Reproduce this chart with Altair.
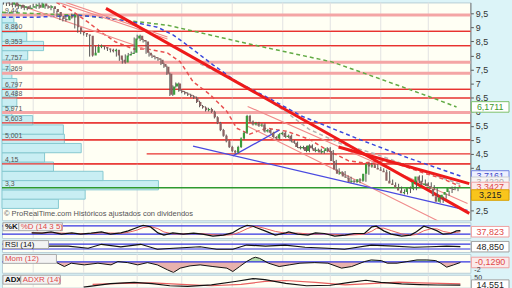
import altair as alt
import pandas as pd

FONT = "Liberation Sans"

# ---------------- price bars (bar index 0..153) ----------------
closes = [
    9.85, 9.8, 9.9, 9.75, 9.8,
    9.7, 9.75, 9.65, 9.7, 9.75,
    9.8, 9.7, 9.85, 9.75, 9.7,
    9.75, 9.65, 9.55, 9.4, 9.3,
    9.25, 9.4, 9.35, 9.45, 9.0,
    8.85, 8.8, 8.75, 8.7, 8.0,
    8.1, 8.3, 8.35, 8.3, 8.25,
    8.2, 8.15, 8.2, 8.0, 7.85,
    7.75, 8.0, 8.05, 8.1, 8.6,
    8.7, 8.55, 8.5, 8.1, 8.0,
    7.95, 7.9, 7.85, 7.7, 7.6,
    7.35, 6.6, 6.9, 7.0, 6.75,
    6.7, 6.65, 6.6, 6.55, 6.5,
    6.35, 6.2, 6.15, 6.05, 6.1,
    6.0, 5.8, 5.6, 5.35, 5.15,
    4.95, 4.75, 4.6, 4.55, 4.75,
    5.05, 5.25, 5.85, 5.65, 5.55,
    5.6, 5.5, 5.55, 5.3, 5.35,
    5.25, 5.1, 5.05, 5.2, 5.25,
    5.1, 5.15, 4.95, 4.9, 4.75,
    4.7, 4.75, 4.6, 4.8, 4.7,
    4.6, 4.65, 4.55, 4.6, 4.7,
    4.6, 4.25, 3.95, 3.8, 3.85,
    3.7, 3.65, 3.5, 3.55, 3.5,
    3.6, 3.55, 3.8, 4.15, 4.05,
    4.1, 4.0, 3.95, 3.9, 3.85,
    3.55, 3.45, 3.4, 3.3, 3.2,
    3.1, 3.15, 3.3, 3.25, 3.5,
    3.7, 3.55, 3.4, 3.45, 3.35,
    3.25, 3.0, 2.8, 2.95, 3.05,
    3.15, 3.3, 3.25, 3.215,
]
first_open = 9.9

month_bars = [10, 27, 45, 60, 77, 94, 110, 127, 143]

# support / resistance levels
sr_strong = [8.86, 8.353, 6.797, 6.488, 5.603, 5.001, 4.15]
sr_weak = [9.44, 7.757, 7.369, 5.971]
sr_partial = [4.5]
sr_partial_start = [48.2]
sr_green = [3.3]

level_labels = ["9,44", "8,860", "8,353", "7,757", "7,369", "6,797", "6,488",
                "5,971", "5,603", "5,001", "4,15", "3,3"]
level_prices = [9.44, 8.86, 8.353, 7.757, 7.369, 6.797, 6.488,
                5.971, 5.603, 5.001, 4.15, 3.3]

# volume profile
vp_low = [2.563, 2.893, 3.223, 3.553, 3.883, 4.213, 4.543, 4.873, 5.203, 5.533, 5.863,
          6.193, 6.523, 6.853, 7.183, 7.513, 7.843, 8.173, 8.503, 8.833, 9.163]
vp_high = [2.893, 3.223, 3.553, 3.883, 4.213, 4.543, 4.873, 5.203, 5.533, 5.863, 6.193,
           6.523, 6.853, 7.183, 7.513, 7.843, 8.173, 8.503, 8.833, 9.163, 9.493]
vp_vol = [57, 84, 158, 102, 52, 43, 80, 63, 62, 31, 10, 15, 15, 15, 10, 8, 26, 42, 25, 15, 12]

# moving averages (bar, price)
ma_green_bar = [-0.5, 26.2, 55.2, 82.8, 110.5, 127.5, 143.2, 152.5]
ma_green_val = [9.535, 9.429, 9.077, 8.408, 7.774, 7.141, 6.542, 6.171]
ma_blue_bar = [-0.5, 10.5, 25.2, 32.8, 43.8, 51.8, 57.2, 61.8, 70.5, 78.5, 89.5, 100.5,
               107.2, 119.5, 136.2, 153.8]
ma_blue_val = [9.359, 9.359, 9.429, 9.359, 9.183, 9.007, 8.725, 8.373, 7.669, 7.07, 6.472,
               5.838, 5.556, 5.028, 4.359, 3.716]
ma_gray_bar = [66.2, 75.2, 84.8, 94.8, 102.8, 113.8, 125.2, 136.2, 153.8]
ma_gray_val = [7.704, 7.246, 6.718, 6.014, 5.38, 4.852, 4.5, 4.077, 3.422]
ma_red_bar = [17.8, 22.8, 28.5, 32.8, 37.8, 43.8, 48.5, 55.2, 59.5, 63.8, 69.5, 75.2, 78.5,
              82.8, 88.5, 95.2, 102.8, 109.5, 116.2, 121.2, 127.8, 134.5, 141.2, 147.8, 153.8]
ma_red_val = [9.887, 9.605, 9.183, 8.831, 8.479, 8.232, 8.232, 8.091, 7.774, 7.07, 6.612,
              6.014, 5.415, 5.204, 5.415, 5.31, 5.028, 4.606, 4.253, 4.183, 4.253, 4.077,
              3.831, 3.62, 3.343]

# trend lines (id, bar, price)
thick_id = ["r1", "r1", "r2", "r2"]
thick_bar = [34.5, 156.8, 112.8, 156.8]
thick_val = [9.676, 2.387, 4.746, 3.443]
blue_id = ["b1", "b1", "b2", "b2"]
blue_bar = [63.8, 156.2, 77.2, 92.8]
blue_val = [4.781, 2.493, 4.429, 5.345]
pink_id = ["pA", "pA", "pB", "pB", "pC", "pC", "p1", "p1", "p2", "p2"]
pink_bar = [2.8, 47.8, 18.5, 55.2, 21.0, 55.2, 82.2, 156.2, 82.2, 147.2]
pink_val = [9.887, 8.232, 9.887, 8.584, 9.887, 8.655, 6.19, 2.74, 5.486, 2.07]

# ---------------- indicators ----------------
stoch_bar = [9.5, 13, 16, 19.5, 23, 26, 29.5, 33, 36, 39.5, 42, 45, 47, 49.5, 52, 54, 57,
             60.5, 64, 67, 70.5, 74, 77, 79.5, 82, 84, 85, 88, 91.5, 95, 96, 99, 102.5, 105,
             108, 111.5, 115, 118, 121.5, 124, 125.5, 128, 130.5, 134, 137, 139, 141.5, 144,
             146, 148, 150.5, 152.5, 153.8]
stoch_k = [29, 27, 37, 20, 29, 20, 27, 37, 20, 29, 44, 69, 85, 73, 29, 13, 29, 20, 27, 20, 6,
           13, 29, 61, 85, 78, 69, 44, 13, 29, 37, 20, 13, 29, 25, 6, 13, 25, 25, 73, 78, 44,
           20, 6, 13, 37, 78, 61, 44, 20, 25, 44, 46]
stoch_d = [30, 28, 31, 28, 25, 24, 24, 30, 28, 26, 33, 50, 68, 76, 60, 36, 22, 22, 24, 23,
           16, 12, 16, 34, 60, 76, 78, 62, 40, 27, 26, 28, 22, 20, 22, 18, 12, 15, 20, 42,
           62, 64, 46, 22, 12, 18, 45, 60, 58, 40, 30, 33, 37.8]
rsi_bar = [10.5, 21.8, 28.5, 33, 39.5, 46.2, 51.8, 57.2, 66.2, 71.8, 77.2, 81.8, 88.2, 94.8,
           101.5, 109.2, 114.8, 123.8, 131.5, 138.2, 143.8, 149.2, 153.8]
rsi_val = [54, 54, 36, 68, 48, 68, 28, 36, 48, 28, 28, 62, 54, 62, 44, 36, 28, 62, 54, 44,
           48, 54, 48.85]
mom_bar = [11.8, 17.2, 20.5, 22.8, 27.2, 31.8, 36.2, 38.5, 41.8, 45.2, 48.5, 51.8, 55.2, 57.2,
           59.5, 62.8, 66.2, 70.5, 75.2, 77.2, 79.5, 81.8, 83.8, 84.8, 86.2, 89.2, 92.8, 96.2,
           99.8, 104.8, 109.2, 113.8, 117.2, 121.5, 123.8, 127.2, 129.2, 132.5, 135.8, 139.2,
           142.5, 145.5, 147.2, 149.2, 151.5, 153.8]
mom_val = [-0.07, 0.07, -1.04, -0.29, -0.67, -0.29, -0.67, 0.07, -0.16, -0.67, -0.16, -0.67,
           -1.78, -2.38, -1.4, -0.89, -0.67, -1.04, -1.4, -2.16, -1.04, 0.07, 0.82, 1.04, 0.8,
           -0.29, -1.04, -0.67, -0.29, -0.16, -0.29, -1.4, -1.04, 0.07, 0.44, 0.29, -0.29,
           -0.29, 0.07, 0.44, 0.44, 0.29, -0.29, -1.18, -0.67, -0.129]
adx_bar = [27, 36, 44, 50, 56, 62, 70, 78, 84, 88, 95, 102, 110, 116, 122, 127, 134, 140, 146,
           153.8]
adx_val = [6, 21, 26, 21, 12, 9, 16, 30, 42, 38, 22, 12, 14, 25, 35, 26, 20, 17, 15, 14.551]
adxr_bar = [30, 40, 50, 60, 70, 80, 88, 95, 105, 115, 125, 133, 140, 153.8]
adxr_val = [18, 22, 24, 18, 12, 18, 30, 34, 26, 16, 22, 27, 24, 20]

# ---------------- helpers ----------------
X_DOM = [-0.5, 157.17]
Y_DOM = [2.141, 9.887]
W = 473

axis_main = alt.Axis(orient="right", values=[2.5, 3, 3.5, 4, 4.5, 5, 5.5, 6, 6.5, 7, 7.5, 8,
                                             8.5, 9, 9.5],
                     labelExpr="replace(format(datum.value, '~g'), '.', ',')",
                     grid=False, tickSize=3, tickColor="#555", domainColor="#777",
                     labelFontSize=9, labelColor="#333", labelFont=FONT, labelPadding=2,
                     title=None)


def xs():
    return alt.Scale(domain=X_DOM, nice=False, zero=False)


def ys(dom):
    return alt.Scale(domain=dom, nice=False, zero=False)


def X(field="bar"):
    return alt.X(f"{field}:Q", scale=xs(), axis=None)


def Y(field, dom):
    ax = axis_main if dom is Y_DOM else None
    return alt.Y(f"{field}:Q", scale=ys(dom), axis=ax)


BOX = "M-1,-0.28L1,-0.28L1,0.28L-1,0.28Z"


def value_box(val, txt, dom, fill, stroke, color, dy=0):
    d = pd.DataFrame({"v": [val], "t": [txt]})
    base = alt.Chart(d)
    pt = base.mark_point(shape=BOX, size=38 * 38, filled=True, fill=fill, stroke=stroke,
                         strokeWidth=1, opacity=1, yOffset=dy).encode(
        x=alt.value(493), y=Y("v", dom))
    tx = base.mark_text(fontSize=9, font=FONT, color=color, dy=dy).encode(
        x=alt.value(493), y=Y("v", dom), text="t:N")
    return [pt, tx]


def label_box(x0, x1, y0, y1, txt, color, bold=False):
    d = pd.DataFrame({"a": [0]})
    r = alt.Chart(d).mark_rect(fill="#f3f3f3", stroke="#a9a9a9", strokeWidth=1).encode(
        x=alt.value(x0), x2=alt.value(x1), y=alt.value(y0), y2=alt.value(y1))
    t = alt.Chart(d).mark_text(align="left", baseline="middle", fontSize=8, font=FONT,
                               color=color, fontWeight="bold" if bold else "normal").encode(
        x=alt.value(x0 + 2), y=alt.value((y0 + y1) / 2 + 0.5), text=alt.value(txt))
    return [r, t]


def grid_layer():
    return alt.Chart(pd.DataFrame({"bar": month_bars})).mark_rule(
        color="#e2e2e2", strokeWidth=1).encode(x=X())


# ---------------- main panel ----------------
opens = [first_open] + closes[:-1]
cdf = pd.DataFrame({"bar": list(range(len(closes))), "open": opens, "close": closes})
cdf["hi"] = cdf[["open", "close"]].max(axis=1) + 0.04
cdf["lo"] = cdf[["open", "close"]].min(axis=1) - 0.04
cdf["dir"] = ["up" if c >= o else "down" for o, c in zip(opens, closes)]

full = pd.DataFrame({"price": sr_strong, "start": [-0.5] * len(sr_strong),
                     "end": [X_DOM[1]] * len(sr_strong)})
strong_layer = alt.Chart(full).mark_rule(color="#e8322f", strokeWidth=1.2).encode(
    x=X("start"), x2="end:Q", y=Y("price", Y_DOM))

vp_df = pd.DataFrame({"lo": vp_low, "hi": vp_high, "vol": vp_vol, "zero": [0] * len(vp_vol)})
vp_layer = alt.Chart(vp_df).mark_rect(fill="#c8eef3", stroke="#86c8d0", strokeWidth=1).encode(
    x=alt.X("zero:Q", scale=alt.Scale(domain=[0, W], nice=False, zero=False), axis=None),
    x2="vol:Q", y=Y("lo", Y_DOM), y2="hi:Q")

weak_df = pd.DataFrame({"price": sr_weak, "start": [-0.5] * len(sr_weak),
                        "end": [X_DOM[1]] * len(sr_weak)})
weak_layer = alt.Chart(weak_df).mark_rule(color="#f4a5a5", strokeWidth=3).encode(
    x=X("start"), x2="end:Q", y=Y("price", Y_DOM))
part_df = pd.DataFrame({"price": sr_partial, "start": sr_partial_start, "end": [X_DOM[1]]})
part_layer = alt.Chart(part_df).mark_rule(color="#e8322f", strokeWidth=1.2).encode(
    x=X("start"), x2="end:Q", y=Y("price", Y_DOM))
green_df = pd.DataFrame({"price": sr_green, "start": [-0.5], "end": [X_DOM[1]]})
green_layer = alt.Chart(green_df).mark_rule(color="#2f9a2f", strokeWidth=1.4).encode(
    x=X("start"), x2="end:Q", y=Y("price", Y_DOM))


def ma_layer(bars, vals, color):
    return alt.Chart(pd.DataFrame({"bar": bars, "v": vals})).mark_line(
        color=color, strokeWidth=1.5, strokeDash=[4, 3], clip=True).encode(
        x=X(), y=Y("v", Y_DOM), order="bar:Q")


def trend_layer(ids, bars, vals, color, width):
    return alt.Chart(pd.DataFrame({"id": ids, "bar": bars, "v": vals})).mark_line(
        color=color, strokeWidth=width, clip=True).encode(
        x=X(), y=Y("v", Y_DOM), detail="id:N")


wick = alt.Chart(cdf).mark_rule(color="#555555", strokeWidth=1, clip=True).encode(
    x=X(), y=Y("lo", Y_DOM), y2="hi:Q")
body = alt.Chart(cdf).mark_bar(size=2.2, clip=True).encode(
    x=X(), y=Y("open", Y_DOM), y2="close:Q",
    color=alt.Color("dir:N", scale=alt.Scale(domain=["up", "down"],
                                             range=["#3c9c3c", "#8c6262"]), legend=None))

lbl_df = pd.DataFrame({"price": level_prices, "t": level_labels})
lbl_layer = alt.Chart(lbl_df).mark_text(align="left", baseline="bottom", dy=-1, fontSize=7,
                                        font=FONT, color="#555").encode(
    x=alt.value(3), y=Y("price", Y_DOM), text="t:N")

credit = alt.Chart(pd.DataFrame({"a": [0]})).mark_text(
    align="left", baseline="middle", fontSize=7.6, font=FONT, color="#555").encode(
    x=alt.value(2), y=alt.value(214),
    text=alt.value("\u00a9 ProRealTime.com  Hist\u00f3ricos ajustados con dividendos"))

main_layers = [
    strong_layer, grid_layer(), vp_layer, weak_layer, strong_layer, part_layer, green_layer,
    ma_layer(ma_green_bar, ma_green_val, "#62aa44"),
    ma_layer(ma_blue_bar, ma_blue_val, "#3a48dc"),
    ma_layer(ma_gray_bar, ma_gray_val, "#b4b4b4"),
    ma_layer(ma_red_bar, ma_red_val, "#e85050"),
    trend_layer(pink_id, pink_bar, pink_val, "#f08a8a", 1.1),
    trend_layer(blue_id, blue_bar, blue_val, "#4a4ae0", 1.3),
    trend_layer(thick_id, thick_bar, thick_val, "#ee1a1a", 3),
    wick, body, lbl_layer, credit,
]
main_layers += value_box(6.1711, "6,1711", Y_DOM, "#ffffff", "#7cbf6a", "#3f9a2c")
main_layers += value_box(3.7161, "3,7161", Y_DOM, "#eef0ff", "#7080e0", "#3a48c8")
main_layers += value_box(3.422, "3,4220", Y_DOM, "#f6f6f6", "#cfcfcf", "#b0b0b0", dy=-2)
main_layers += value_box(3.3427, "3,3427", Y_DOM, "#fbeaea", "#f0a0a0", "#e04848", dy=1)
main_layers += value_box(3.215, "3,215", Y_DOM, "#f9c51c", "#d9a000", "#222222", dy=5)

main = alt.layer(*main_layers).resolve_scale(x="independent").properties(width=W, height=220)

# ---------------- stochastic ----------------
ST_DOM = [-9, 107]
sdf = pd.DataFrame({"bar": stoch_bar, "k": stoch_k, "d": stoch_d})
st_layers = [
    grid_layer(),
    alt.Chart(pd.DataFrame({"v": [20, 80]})).mark_rule(color="#3434e0", strokeWidth=1.2).encode(
        y=Y("v", ST_DOM)),
    alt.Chart(sdf).mark_line(color="#e86060", strokeWidth=1, clip=True).encode(x=X(), y=Y("d", ST_DOM)),
    alt.Chart(sdf).mark_line(color="#111111", strokeWidth=1.2, clip=True).encode(x=X(), y=Y("k", ST_DOM)),
]
st_layers += label_box(1, 17, 0.5, 8.5, "%K", "#111", bold=True)
st_layers += label_box(17, 61, 0.5, 8.5, "%D (14 3 5)", "#e04848")
st_layers += value_box(37.823, "37,823", ST_DOM, "#ffffff", "#f0a0a0", "#e04848")
stoch = alt.layer(*st_layers).properties(width=W, height=16)

# ---------------- RSI ----------------
RSI_DOM = [6, 102]
rdf = pd.DataFrame({"bar": rsi_bar, "v": rsi_val})
rsi_layers = [
    grid_layer(),
    alt.Chart(pd.DataFrame({"v": [30, 70]})).mark_rule(color="#3434e0", strokeWidth=1.2).encode(
        y=Y("v", RSI_DOM)),
    alt.Chart(rdf).mark_line(color="#111111", strokeWidth=1.2, clip=True).encode(x=X(), y=Y("v", RSI_DOM)),
]
rsi_layers += label_box(1, 47, 0.5, 8.5, "RSI (14)", "#111")
rsi_layers += value_box(48.85, "48,850", RSI_DOM, "#ffffff", "#a0a0a0", "#222")
rsi = alt.layer(*rsi_layers).properties(width=W, height=12)

# ---------------- Momentum ----------------
MOM_DOM = [-2.44, 1.78]
mdf = pd.DataFrame({"bar": mom_bar, "v": mom_val})
mom_layers = [
    grid_layer(),
    alt.Chart(mdf).transform_calculate(neg="min(datum.v, 0)").mark_area(
        color="#e4a4a0", opacity=0.85, clip=True).encode(
        x=X(), y=Y("neg", MOM_DOM), y2=alt.datum(0)),
    alt.Chart(mdf).transform_calculate(pos="max(datum.v, 0)").mark_area(
        color="#a8d89c", opacity=0.9, clip=True).encode(
        x=X(), y=Y("pos", MOM_DOM), y2=alt.datum(0)),
    alt.Chart(pd.DataFrame({"v": [0]})).mark_rule(color="#3434e0", strokeWidth=1.2).encode(
        y=Y("v", MOM_DOM)),
    alt.Chart(mdf).mark_line(color="#111111", strokeWidth=1, clip=True).encode(x=X(), y=Y("v", MOM_DOM)),
]
mom_layers += label_box(1, 55, 0.5, 9.5, "Mom (12)", "#e04848")
mom_layers += value_box(-0.129, "-0,1290", MOM_DOM, "#fbeaea", "#f0a0a0", "#e04848")
mom_layers.append(alt.Chart(pd.DataFrame({"v": [-2], "t": ["-2"]})).mark_text(
    align="left", baseline="middle", fontSize=7, font=FONT, color="#333", dy=-0.5).encode(
    x=alt.value(477), y=Y("v", MOM_DOM), text="t:N"))
mom = alt.layer(*mom_layers).properties(width=W, height=19)

# ---------------- ADX ----------------
ADX_DOM = [4, 58.3]
adf = pd.DataFrame({"bar": adx_bar, "v": adx_val})
ardf = pd.DataFrame({"bar": adxr_bar, "v": adxr_val})
adx_layers = [
    grid_layer(),
    alt.Chart(ardf).mark_line(color="#e86060", strokeWidth=1.2, clip=True).encode(x=X(), y=Y("v", ADX_DOM)),
    alt.Chart(adf).mark_line(color="#111111", strokeWidth=1.2, clip=True).encode(x=X(), y=Y("v", ADX_DOM)),
    alt.Chart(pd.DataFrame({"v": [50], "t": ["50"]})).mark_text(
        align="left", baseline="middle", fontSize=7, font=FONT, color="#333", dy=1).encode(
        x=alt.value(477), y=Y("v", ADX_DOM), text="t:N"),
]
adx_layers += label_box(1, 19, 0.5, 9.5, "ADX", "#111", bold=True)
adx_layers += label_box(19, 59, 0.5, 9.5, "ADXR (14)", "#e04848")
adx_layers += value_box(14.551, "14,551", ADX_DOM, "#ffffff", "#a0a0a0", "#222")
adx = alt.layer(*adx_layers).properties(width=W, height=13)

chart = alt.vconcat(main, stoch, rsi, mom, adx, spacing=2, bounds="flush").properties(
    padding=0, background="#dcf4f8"
).configure_view(fill="#fffff4", stroke="#b8ced6", strokeWidth=1)

chart.save("out.html", embed_options={"renderer": "svg", "actions": False})
